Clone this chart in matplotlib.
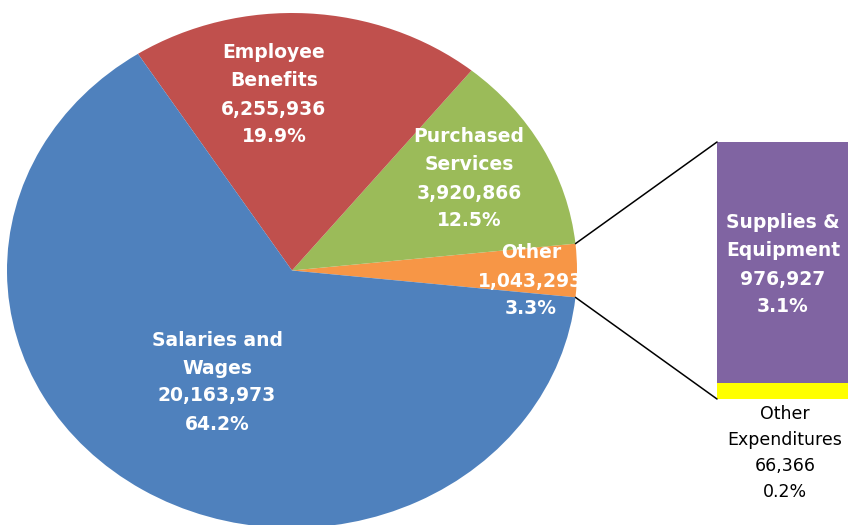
import numpy as np
import matplotlib
matplotlib.use("Agg")
import matplotlib.pyplot as plt
from matplotlib.patches import ConnectionPatch

# pie data (counterclockwise from the right: Other, Purchased, Benefits, Salaries)
pie_names = ["Other", "Purchased\nServices", "Employee\nBenefits", "Salaries and\nWages"]
pie_values = [1043293, 3920866, 6255936, 20163973]
pie_colors = ["#F79646", "#9BBB59", "#C0504D", "#4F81BD"]

# breakdown of "Other" (bar)
bar_names = ["Other\nExpenditures", "Supplies &\nEquipment"]
bar_values = [66366, 976927]
bar_colors = ["#FFFF00", "#8064A2"]

total = sum(pie_values)
W, H = 848, 525

fig = plt.figure(figsize=(W / 100, H / 100), dpi=100)

# pie axes - stretched into an ellipse like the excel original
cx, cy, rx, ry = 292, 270.5, 285, 257.5
ax_pie = fig.add_axes([(cx - rx) / W, (H - cy - ry) / H, 2 * rx / W, 2 * ry / H])
other_angle = pie_values[0] / total * 360
ax_pie.pie(pie_values, colors=pie_colors, startangle=-other_angle / 2,
           counterclock=True, radius=1, wedgeprops=dict(linewidth=0))
ax_pie.set_aspect("auto")
ax_pie.set_xlim(-1, 1)
ax_pie.set_ylim(-1, 1)
ax_pie.axis("off")

# bar axes on the right
bx0, btop, bbot = 717, 142, 399
ax_bar = fig.add_axes([bx0 / W, (H - bbot) / H, 150 / W, (bbot - btop) / H])
sub_total = sum(bar_values)
bottom = 0
for v, c in zip(bar_values, bar_colors):
    ax_bar.bar(0, v, bottom=bottom, width=1, align="edge", color=c, linewidth=0)
    bottom += v
ax_bar.set_xlim(0, 1)
ax_bar.set_ylim(0, sub_total)
ax_bar.axis("off")

# connector lines
a = np.deg2rad(other_angle / 2)
for sign, yb in [(1, sub_total), (-1, 0)]:
    con = ConnectionPatch(xyA=(np.cos(a), sign * np.sin(a)), coordsA=ax_pie.transData,
                          xyB=(0, yb), coordsB=ax_bar.transData,
                          color="black", linewidth=1.1)
    fig.add_artist(con)

# labels
ov = fig.add_axes([0, 0, 1, 1])
ov.set_xlim(0, W)
ov.set_ylim(H, 0)
ov.axis("off")


def lab(name, v):
    return f"{name}\n{v:,.0f}\n{v / total * 100:.1f}%"


pie_label_pos = [(531, 281), (469, 179), (274, 95), (217, 382)]
for name, v, (x, y) in zip(pie_names, pie_values, pie_label_pos):
    ov.text(x, y, lab(name, v), ha="center", va="center", color="white",
            fontsize=13.5, fontweight="bold", linespacing=1.6)

ov.text(783, 265, lab(bar_names[1], bar_values[1]), ha="center", va="center",
        color="white", fontsize=13.5, fontweight="bold", linespacing=1.6)
ov.text(785, 453, lab(bar_names[0], bar_values[0]), ha="center", va="center",
        color="black", fontsize=12.5, linespacing=1.55)

fig.savefig("out.png", dpi=100)
